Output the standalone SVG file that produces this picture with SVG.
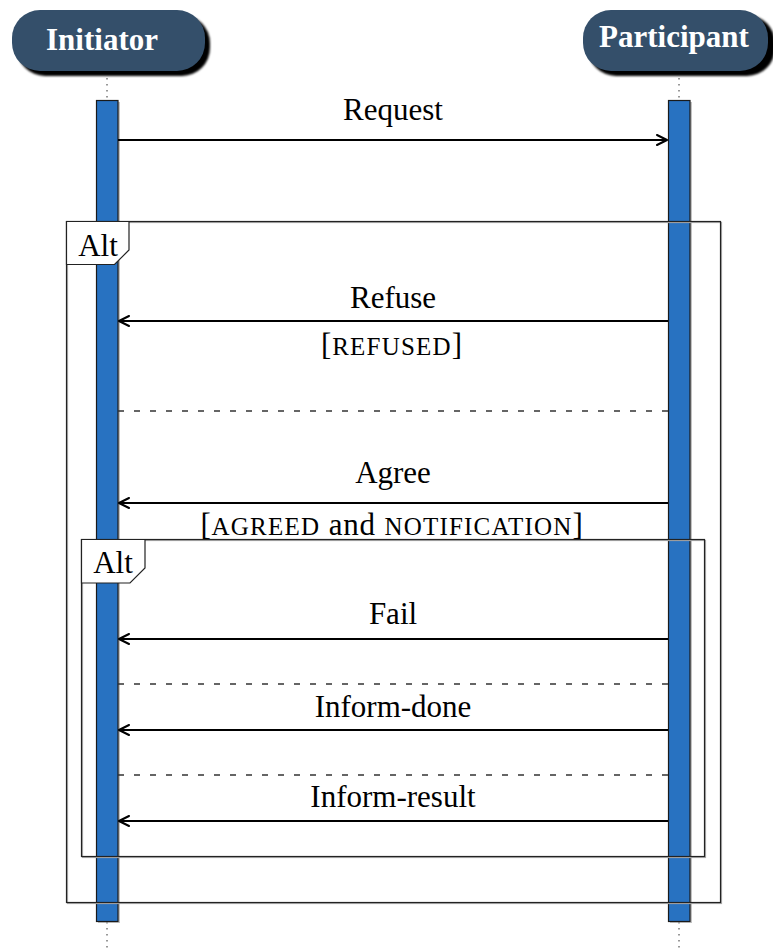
<svg xmlns="http://www.w3.org/2000/svg" width="773" height="949" viewBox="0 0 773 949">
  <defs>
    <style>
      .head { fill: #344f6a; }
      .headShadow { fill: #000; }
      .headText { font-family: "Liberation Serif", "Times New Roman", serif; font-weight: bold; font-size: 31px; fill: #fff; text-anchor: middle; }
      .life { stroke: #333; stroke-width: 1; stroke-dasharray: 1.5 4.5; fill: none; }
      .bar { fill: #2872c1; stroke: #1a1a1a; stroke-width: 1.2; }
      .barShadow { fill: #999; opacity: 0.6; }
      .msg { stroke: #000; stroke-width: 2; fill: none; }
      .sep { stroke: #333; stroke-width: 1.3; stroke-dasharray: 6 10; fill: none; }
      .frame { fill: none; stroke: #222; stroke-width: 1.2; }
      .frameShadow { fill: none; stroke: #aaa; stroke-width: 1.2; }
      .tag { fill: #fff; stroke: #222; stroke-width: 1.2; }
      .lbl { font-family: "Liberation Serif", "Times New Roman", serif; font-size: 31px; fill: #000; text-anchor: middle; }
      .guard { letter-spacing: 0.8px; }
      .sc { font-size: 25px; letter-spacing: 1.2px; }
    </style>
    <marker id="open" viewBox="0 0 12 12" refX="11" refY="6" markerWidth="12" markerHeight="12" markerUnits="userSpaceOnUse" orient="auto">
      <path d="M1,1 L11,6 L1,11" fill="none" stroke="#000" stroke-width="2" stroke-linecap="round" stroke-linejoin="round"/>
    </marker>
    <filter id="soft" x="-10%" y="-10%" width="130%" height="140%">
      <feGaussianBlur stdDeviation="1"/>
    </filter>
  </defs>

  <!-- participant heads -->
  <g id="initiator">
    <rect class="headShadow" x="17" y="15" width="193" height="61" rx="28" filter="url(#soft)"/>
    <rect class="head" x="12" y="10" width="193" height="61" rx="28"/>
    <text class="headText" x="102" y="50">Initiator</text>
  </g>
  <g id="participant">
    <rect class="headShadow" x="588" y="15" width="187" height="61" rx="28" filter="url(#soft)"/>
    <rect class="head" x="583" y="10" width="185" height="61" rx="28"/>
    <text class="headText" x="674" y="47">Participant</text>
  </g>

  <!-- lifelines and activation bars -->
  <g id="lifelines">
    <line class="life" x1="107" y1="78" x2="107" y2="100"/>
    <line class="life" x1="107" y1="922" x2="107" y2="949"/>
    <line class="life" x1="679" y1="78" x2="679" y2="100"/>
    <line class="life" x1="679" y1="922" x2="679" y2="949"/>
    <rect class="barShadow" x="98" y="102" width="22" height="821"/>
    <rect class="bar" x="96.5" y="100.5" width="21.5" height="821"/>
    <rect class="barShadow" x="670" y="102" width="22" height="821"/>
    <rect class="bar" x="668.5" y="100.5" width="21.5" height="821"/>
  </g>

  <!-- combined fragments -->
  <g id="alt-outer">
    <rect class="frameShadow" x="67.5" y="222.5" width="654" height="681"/>
    <rect class="frame" x="66.5" y="221.5" width="654" height="681"/>
    <path class="tag" d="M66.5,221.5 H129 V250 L114.5,264.5 H66.5 Z"/>
    <text class="lbl" x="98" y="256">Alt</text>
  </g>
  <g id="alt-inner">
    <rect class="frameShadow" x="82.5" y="540.5" width="623" height="317"/>
    <rect class="frame" x="81.5" y="539.5" width="623" height="317"/>
    <path class="tag" d="M81.5,539.5 H145 V568 L130,583 H81.5 Z"/>
    <text class="lbl" x="113" y="573">Alt</text>
  </g>

  <!-- messages -->
  <g id="connectors">
    <line class="msg" x1="118" y1="140" x2="667" y2="140" marker-end="url(#open)"/>
    <line class="msg" x1="668" y1="321" x2="119" y2="321" marker-end="url(#open)"/>
    <line class="sep" x1="118" y1="411" x2="668" y2="411"/>
    <line class="msg" x1="668" y1="503" x2="119" y2="503" marker-end="url(#open)"/>
    <line class="msg" x1="668" y1="639" x2="119" y2="639" marker-end="url(#open)"/>
    <line class="sep" x1="118" y1="684" x2="668" y2="684"/>
    <line class="msg" x1="668" y1="730" x2="119" y2="730" marker-end="url(#open)"/>
    <line class="sep" x1="118" y1="775" x2="668" y2="775"/>
    <line class="msg" x1="668" y1="821" x2="119" y2="821" marker-end="url(#open)"/>
  </g>

  <!-- message labels and guards -->
  <g id="labels">
    <text class="lbl" x="393" y="120">Request</text>
    <text class="lbl" x="393" y="308">Refuse</text>
    <text class="lbl guard" x="392" y="355">[<tspan class="sc">REFUSED</tspan>]</text>
    <text class="lbl" x="393" y="483">Agree</text>
    <text class="lbl guard" x="392" y="535">[<tspan class="sc">AGREED</tspan> and <tspan class="sc">NOTIFICATION</tspan>]</text>
    <text class="lbl" x="393" y="624">Fail</text>
    <text class="lbl" x="393" y="717">Inform-done</text>
    <text class="lbl" x="393" y="807">Inform-result</text>
  </g>
</svg>
